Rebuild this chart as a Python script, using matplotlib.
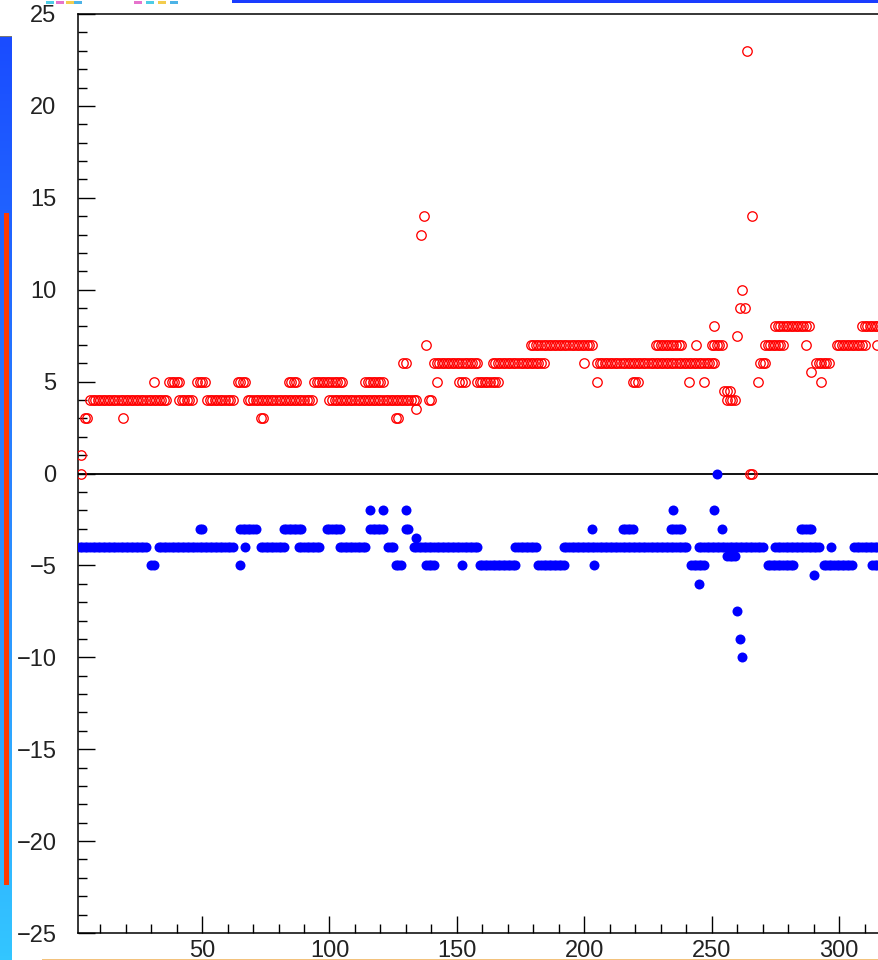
import numpy as np
import matplotlib
matplotlib.use("Agg")
import matplotlib.pyplot as plt
from matplotlib.patches import Rectangle
from matplotlib.ticker import MultipleLocator

# ---- data: runs (x_start, x_end, value); one point per integer x ----
red_runs = [
    (2.5, 2.5, 0), (2.5, 2.5, 1),
    (4, 5, 3), (19, 19, 3), (73, 74, 3), (126, 127, 3), (134, 134, 3.5),
    (6, 36, 4), (41, 46, 4), (52, 62, 4), (68, 93, 4), (100, 134, 4), (139, 140, 4),
    (31, 31, 5), (37, 41, 5), (48, 51, 5), (64, 67, 5), (84, 87, 5), (94, 105, 5),
    (114, 121, 5), (142, 142, 5), (151, 153, 5), (158, 166, 5), (205, 205, 5),
    (219, 221, 5), (241, 241, 5), (247, 247, 5), (268, 268, 5), (293, 293, 5),
    (289, 289, 5.5),
    (129, 130, 6), (141, 158, 6), (164, 184, 6), (200, 200, 6), (205, 251, 6),
    (269, 271, 6), (291, 296, 6),
    (138, 138, 7), (179, 203, 7), (228, 238, 7), (244, 244, 7), (250, 254, 7),
    (271, 278, 7), (287, 287, 7), (299, 310, 7), (315, 315, 7),
    (260, 260, 7.5),
    (251, 251, 8), (275, 288, 8), (309, 316, 8),
    (261, 261, 9), (263, 263, 9), (262, 262, 10),
    (136, 136, 13), (137, 137, 14), (266, 266, 14), (264, 264, 23),
    (255, 257, 4.5), (256, 259, 4),
    (265, 266, 0),
]

blue_runs = [
    (2, 28, -4), (33, 62, -4), (67, 67, -4), (73, 82, -4), (88, 96, -4),
    (104, 114, -4), (123, 125, -4), (133, 158, -4), (173, 181, -4), (192, 240, -4),
    (245, 270, -4), (275, 292, -4), (297, 297, -4), (306, 316, -4),
    (30, 31, -5), (65, 65, -5), (126, 128, -5), (138, 141, -5), (152, 152, -5),
    (159, 173, -5), (182, 192, -5), (204, 204, -5), (242, 247, -5), (272, 282, -5),
    (294, 305, -5), (313, 316, -5),
    (290, 290, -5.5),
    (49, 50, -3), (65, 71, -3), (82, 89, -3), (99, 104, -3), (116, 121, -3),
    (130, 131, -3), (203, 203, -3), (215, 219, -3), (234, 238, -3), (254, 254, -3),
    (285, 289, -3),
    (116, 116, -2), (121, 121, -2), (130, 130, -2), (235, 235, -2), (251, 251, -2),
    (134, 134, -3.5),
    (256, 259, -4.5),
    (245, 245, -6), (260, 260, -7.5), (261, 261, -9), (262, 262, -10),
    (252, 252, 0),
]

x_ticks = [50, 100, 150, 200, 250, 300]
y_ticks = [-25, -20, -15, -10, -5, 0, 5, 10, 15, 20, 25]


def expand(runs):
    xs, ys = [], []
    for a, b, v in runs:
        if a == b:
            xs.append(a)
            ys.append(v)
        else:
            for x in range(int(a), int(b) + 1):
                xs.append(x)
                ys.append(v)
    return np.array(xs, float), np.array(ys, float)


rx, ry = expand(red_runs)
bx, by = expand(blue_runs)

W, H = 879, 960
fig = plt.figure(figsize=(W / 100, H / 100), dpi=100)

def fx(px):
    return px / W

def fy(py):
    return 1 - py / H

# ---- decorations around the plot ----
grad_ax = fig.add_axes([0, 0, fx(12), fy(36)])
grad = np.linspace(0, 1, 256).reshape(-1, 1)
from matplotlib.colors import LinearSegmentedColormap
cmap = LinearSegmentedColormap.from_list("b", ["#1a4cff", "#2a86ff", "#33c6ff"])
grad_ax.imshow(grad, aspect="auto", cmap=cmap, extent=[0, 1, 0, 1], origin="upper")
grad_ax.axis("off")
fig.add_artist(Rectangle((fx(0), fy(37)), fx(12), 1 / H, transform=fig.transFigure,
                         color="#777777", lw=0))
fig.add_artist(Rectangle((fx(4.5), fy(885)), fx(4.5), (885 - 213) / H,
                         transform=fig.transFigure, color="#ff3a00", lw=0))
fig.add_artist(Rectangle((fx(232), fy(3)), fx(W - 232), 3 / H,
                         transform=fig.transFigure, color="#1a3cff", lw=0))
fig.add_artist(Rectangle((fx(42), fy(960)), fx(W - 42), 1.5 / H,
                         transform=fig.transFigure, color="#f3c27c", lw=0))
for x0, c in [(46, "#20c0e0"), (56, "#e050c0"), (66, "#f0c020"), (74, "#20a0e0"),
              (134, "#e050c0"), (146, "#20c0e0"), (158, "#f0c020"), (170, "#20a0e0")]:
    fig.add_artist(Rectangle((fx(x0), fy(4)), fx(8), 3 / H,
                             transform=fig.transFigure, color=c, lw=0, alpha=0.8))

# ---- main axes ----
xmin, xmax = 1.3, 330
scale = 2.548
ax = fig.add_axes([fx(78), fy(933), (xmax - xmin) * scale / W, (933 - 14) / H])
ax.set_xlim(xmin, xmax)
ax.set_ylim(-25, 25)

ax.axhline(0, color="#111111", lw=1.4, zorder=1)
ax.plot(bx, by, "o", color="#0000ff", ms=7.2, mew=0, zorder=3)
ax.plot(rx, ry, "o", mfc="none", mec="#ff0000", ms=6.8, mew=0.95, zorder=4)

for s in ["left", "top", "bottom", "right"]:
    ax.spines[s].set_linewidth(1.1)
    ax.spines[s].set_color("black")

ax.set_xticks(x_ticks)
ax.set_yticks(y_ticks)
ax.xaxis.set_minor_locator(MultipleLocator(10))
ax.yaxis.set_minor_locator(MultipleLocator(1))
ax.tick_params(which="major", direction="in", length=12, width=1.0, color="black",
               top=False, right=False, labelsize=17, labelcolor="#222222")
ax.tick_params(which="minor", direction="in", length=6.5, width=1.0, color="black",
               top=False, right=False)
ax.tick_params(axis="y", which="major", pad=15.5)
ax.tick_params(axis="x", which="major", pad=5)
for lab in ax.get_xticklabels() + ax.get_yticklabels():
    lab.set_family(["Liberation Sans", "DejaVu Sans"])

fig.savefig("out.png", dpi=100)
